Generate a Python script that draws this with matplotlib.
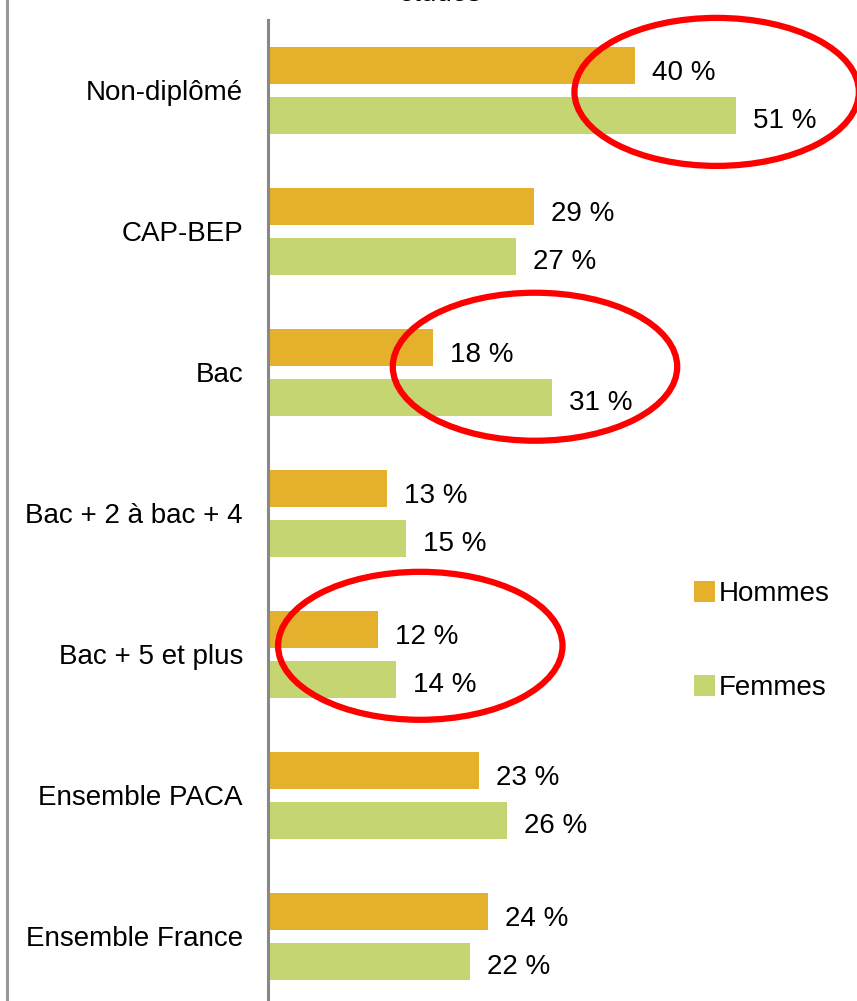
import matplotlib
matplotlib.use("Agg")
import matplotlib.pyplot as plt
from matplotlib.patches import Ellipse
from matplotlib.lines import Line2D
import numpy as np

# Data
categories = ["Non-diplômé", "CAP-BEP", "Bac", "Bac + 2 à bac + 4",
              "Bac + 5 et plus", "Ensemble PACA", "Ensemble France"]
hommes = [40, 29, 18, 13, 12, 23, 24]
femmes = [51, 27, 31, 15, 14, 26, 22]
series_names = ["Hommes", "Femmes"]

# highlighted groups (category, ellipse centre in data units)
highlights = [("Non-diplômé", 48.9, 0.01), ("Bac", 29.1, -0.04), ("Bac + 5 et plus", 16.6, -0.06)]

plt.rcParams['font.family'] = ['Liberation Sans Narrow', 'Liberation Sans', 'DejaVu Sans']

col_h = "#E5B02C"
col_f = "#C5D571"
fs = 20

W, H = 857, 1001
fig = plt.figure(figsize=(W / 100, H / 100), dpi=100)
ax = fig.add_axes([268 / W, 0, 1 - 268 / W, (1001 - 20) / H])

y = np.arange(len(categories))
bh = 0.262
ax.barh(y - 0.174, hommes, height=bh, color=col_h, label=series_names[0])
ax.barh(y + 0.177, femmes, height=bh, color=col_f, label=series_names[1])

for i in range(len(categories)):
    ax.text(hommes[i] + 1.85, y[i] - 0.174 + 0.05, f"{hommes[i]} %",
            va="center", ha="left", fontsize=fs)
    ax.text(femmes[i] + 1.85, y[i] + 0.177 + 0.04, f"{femmes[i]} %",
            va="center", ha="left", fontsize=fs)

ax.set_xlim(0, (W - 268) / 9.175)
ax.set_ylim(6.46, -0.5)
ax.set_yticks(y)
ax.set_yticklabels(categories, fontsize=fs)
ax.set_xticks([])
ax.tick_params(axis="y", length=0, pad=18)
for s in ["top", "right", "bottom"]:
    ax.spines[s].set_visible(False)
ax.spines["left"].set_color("#888888")
ax.spines["left"].set_linewidth(2.2)

for name, cx, dy in highlights:
    i = categories.index(name)
    e = Ellipse((cx, y[i] + dy), 31.0, 1.05, fill=False, edgecolor="#FF0000",
                linewidth=4.5, transform=ax.transData, clip_on=False)
    ax.add_patch(e)

ax.legend(loc="upper left", bbox_to_anchor=(683 / W, 1 - 570 / H),
          bbox_transform=fig.transFigure, frameon=False, fontsize=fs,
          handlelength=0.75, handleheight=0.75, handletextpad=0.15,
          labelspacing=2.45, borderaxespad=0)

# left border and title (cut off at the top, as in the source)
fig.add_artist(Line2D([7.5 / W, 7.5 / W], [0, 1], color="#999999", linewidth=2.2))
fig.text(440 / W, 1.0 + 0.006, "études", ha="center", va="center", fontsize=fs)

fig.savefig("out.png", dpi=100)
